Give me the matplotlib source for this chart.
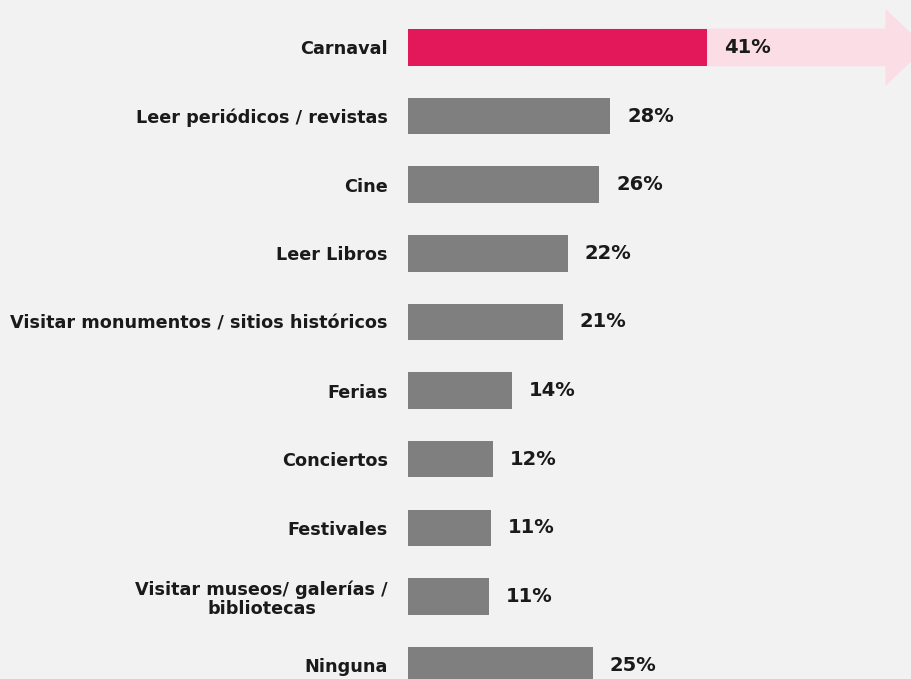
import matplotlib.pyplot as plt
from matplotlib.patches import FancyArrow

# Data
categories = ['Carnaval', 'Leer periódicos / revistas', 'Cine', 'Leer Libros',
              'Visitar monumentos / sitios históricos', 'Ferias', 'Conciertos',
              'Festivales', 'Visitar museos/ galerías /\nbibliotecas', 'Ninguna']
values = [41.0, 27.7, 26.2, 21.9, 21.2, 14.2, 11.6, 11.4, 11.1, 25.3]
value_labels = [f'{round(v)}%' for v in values]

bg = '#F2F2F2'
pink = '#E3185B'
gray = '#7F7F7F'
arrow_pink = '#FBDDE6'
text_color = '#1A1A1A'

fig = plt.figure(figsize=(9.11, 6.79), dpi=100, facecolor=bg)
ax = fig.add_axes([408 / 911, 0, 503 / 911, 1])
ax.set_facecolor(bg)

y = list(range(len(categories)))

# light arrow behind the highlighted bar
arrow = FancyArrow(18, 0, 47.4, 0, width=0.55, head_width=1.12,
                   head_length=5.6, length_includes_head=False,
                   color=arrow_pink, linewidth=0, zorder=1)
ax.add_patch(arrow)

colors = [pink] + [gray] * (len(values) - 1)
ax.barh(y, values, height=0.53, color=colors, zorder=2)

for yi, v, lab in zip(y, values, value_labels):
    ax.text(v + 2.3, yi, lab, va='center', ha='left', fontsize=14,
            fontweight='bold', color=text_color, zorder=3)

ax.set_yticks(y)
ax.set_yticklabels(categories, fontsize=12.7, fontweight='bold', color=text_color)
for t in ax.get_yticklabels():
    t.set_multialignment('center')
    t.set_linespacing(1.1)
ax.tick_params(axis='y', length=0, pad=14.5)
ax.tick_params(axis='x', bottom=False, labelbottom=False)

ax.set_xlim(0, 68.9)
ax.set_ylim(9.2, -0.69)
for s in ax.spines.values():
    s.set_visible(False)

fig.savefig('out.png', dpi=100, facecolor=bg)
